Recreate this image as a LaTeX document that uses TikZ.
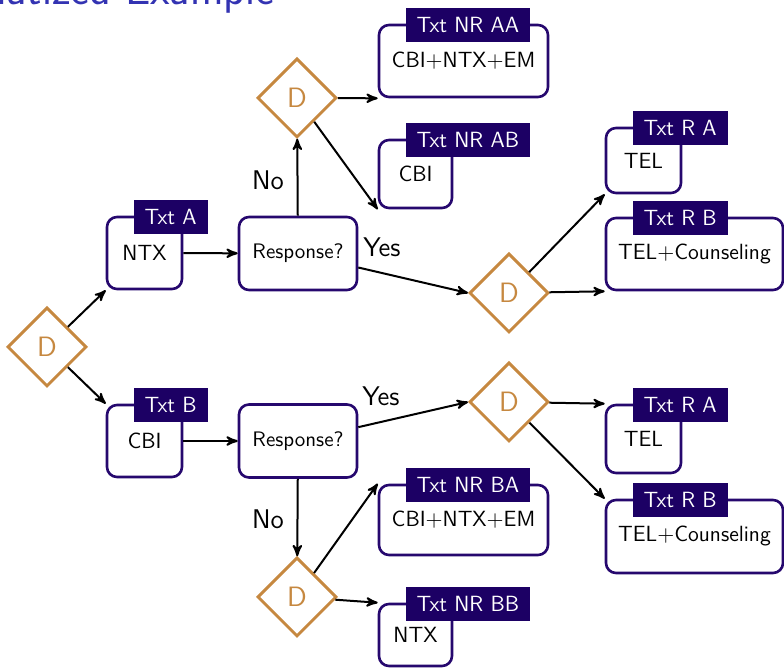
\documentclass[tikz,border=0pt]{standalone}
\usepackage{amsmath}
\usepackage{tikz}
\usetikzlibrary{arrows,calc,positioning,shapes.geometric}

\definecolor{boxline}{RGB}{38,8,110}
\definecolor{tagfill}{RGB}{28,0,100}
\definecolor{decide}{RGB}{198,136,64}
\definecolor{titleblue}{RGB}{51,51,178}

\begin{document}
\begin{tikzpicture}
[
                  x =  0.5pt,
                  y = -0.5pt,
         line width = 1pt,
             ->, >= stealth',
          box/.style = { draw=boxline, line width=1.3pt, rounded corners=5pt, fill=white, inner sep=2pt, font=\sffamily\fontsize{11}{13}\selectfont },
          tag/.style = { draw=none, fill=tagfill, text=white, anchor=west, inner xsep=5.5pt, inner ysep=0pt, minimum height=17pt, font=\sffamily\fontsize{11}{13}\selectfont },
     decision/.style = { diamond, aspect=1, draw=decide, text=decide, line width=1.5pt, minimum size=39.5pt, inner sep=0pt, font=\sffamily\fontsize{14}{16}\selectfont },
       answer/.style = { draw=none, fill=none, font=\sffamily\fontsize{13.5}{16}\selectfont }
]

    \clip (0,0) rectangle (784,668);
    \useasboundingbox (0,0) rectangle (784,668);

    \node (Title)   at (282,5)   [anchor=base east, text=titleblue, font=\sffamily\fontsize{22.5}{26}\selectfont] {Schematized Example};
    \node (PageNum) at (357,664) [anchor=north, text=gray, font=\sffamily\fontsize{6}{7}\selectfont] {5 / 19};

    % decision points
    \node (D0)   at (47,347)  [decision] {D};
    \node (DNR1) at (297,98)  [decision] {D};
    \node (DR1)  at (509,293) [decision] {D};
    \node (DR2)  at (509,402) [decision] {D};
    \node (DNR2) at (297,597) [decision] {D};

    % treatments
    \node (NTX)   at (144.5,253)  [box, minimum width=37.5pt, minimum height=36pt]   {NTX};
    \node (RespA) at (298,253.5)  [box, minimum width=59pt, minimum height=36.5pt, font=\sffamily\fontsize{10.5}{12}\selectfont] {Response?};
    \node (CBI)   at (144.5,441)  [box, minimum width=37.5pt, minimum height=36pt]   {CBI};
    \node (RespB) at (298,441)    [box, minimum width=59pt, minimum height=36.5pt, font=\sffamily\fontsize{10.5}{12}\selectfont] {Response?};
    \node (NRAA)  at (463.5,61)   [box, minimum width=84.5pt, minimum height=36pt]   {CBI$+$NTX$+$EM};
    \node (NRAB)  at (415.5,174)  [box, minimum width=36.5pt, minimum height=34pt]   {CBI};
    \node (RA1)   at (643.5,160.5)[box, minimum width=37.5pt, minimum height=32.5pt] {TEL};
    \node (RB1)   at (694.5,254)  [box, minimum width=88.5pt, minimum height=36pt]   {TEL$+$Counseling};
    \node (RA2)   at (643.5,439)  [box, minimum width=37.5pt, minimum height=34pt]   {TEL};
    \node (RB2)   at (694.5,536.5)[box, minimum width=88.5pt, minimum height=36.5pt] {TEL$+$Counseling};
    \node (NRBA)  at (463.5,520)  [box, minimum width=84.5pt, minimum height=35pt]   {CBI$+$NTX$+$EM};
    \node (NRBB)  at (415.5,635)  [box, minimum width=36.5pt, minimum height=31pt]   {NTX};

    % tags on the boxes
    \node (NTXTag)  at ($(NTX.north west)+(27,1)$)  [tag] {Txt A};
    \node (CBITag)  at ($(CBI.north west)+(27,1)$)  [tag] {Txt B};
    \node (NRAATag) at ($(NRAA.north west)+(27,1)$) [tag] {Txt NR AA};
    \node (NRABTag) at ($(NRAB.north west)+(27,1)$) [tag] {Txt NR AB};
    \node (RA1Tag)  at ($(RA1.north west)+(27,1)$)  [tag] {Txt R A};
    \node (RB1Tag)  at ($(RB1.north west)+(27,1)$)  [tag] {Txt R B};
    \node (RA2Tag)  at ($(RA2.north west)+(27,1)$)  [tag] {Txt R A};
    \node (RB2Tag)  at ($(RB2.north west)+(27,1)$)  [tag] {Txt R B};
    \node (NRBATag) at ($(NRBA.north west)+(27,1)$) [tag] {Txt NR BA};
    \node (NRBBTag) at ($(NRBB.north west)+(27,1)$) [tag] {Txt NR BB};

    \draw (D0) -> (NTX.south west);
    \draw (D0) -> (CBI.north west);
    \draw (NTX) -> (RespA);
    \draw (CBI) -> (RespB);
    \draw (RespA) -> (DNR1);
    \draw (RespA) -> (DR1.west);
    \draw (RespB) -> (DR2.west);
    \draw (RespB) -> (DNR2);
    \draw (DNR1) -> (NRAA.south west);
    \draw (DNR1) -> (NRAB.south west);
    \draw (DR1) -> (RA1.south west);
    \draw (DR1) -> (RB1.south west);
    \draw (DR2) -> (RA2.north west);
    \draw (DR2) -> (RB2.north west);
    \draw (DNR2) -> (NRBA.north west);
    \draw (DNR2) -> (NRBB.north west);

    \node (NoA)  at (268,180) [answer] {No};
    \node (YesA) at (382,247) [answer] {Yes};
    \node (YesB) at (381,396) [answer] {Yes};
    \node (NoB)  at (268,519) [answer] {No};

\end{tikzpicture}
\end{document}
